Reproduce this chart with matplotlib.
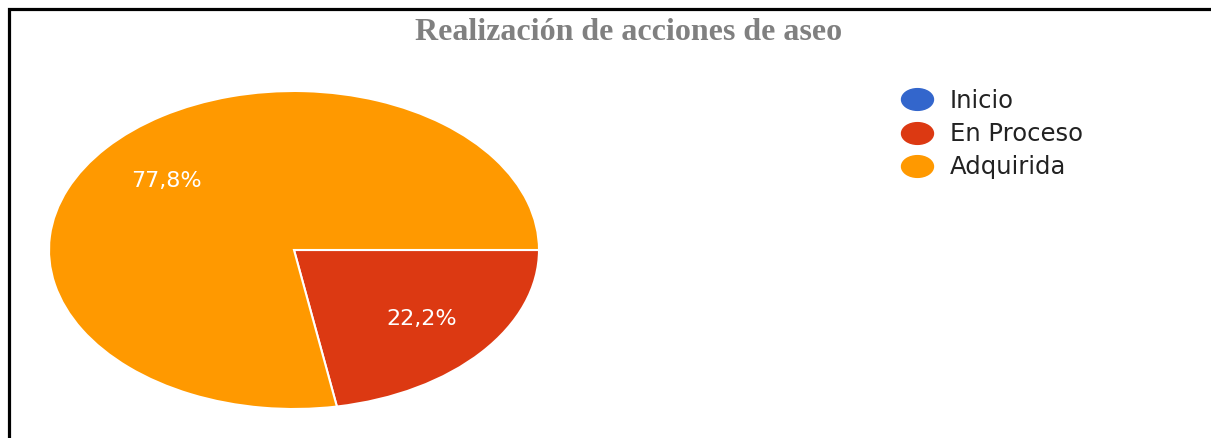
import matplotlib
matplotlib.use("Agg")
import matplotlib.pyplot as plt
from matplotlib.lines import Line2D
from matplotlib.path import Path
from matplotlib.transforms import Affine2D

# Data
categories = ["Inicio", "En Proceso", "Adquirida"]
values = [0.0, 22.2, 77.8]
colors = ["#3366cc", "#dc3912", "#ff9900"]
title = "Realización de acciones de aseo"

W, H = 1211, 438
fig = plt.figure(figsize=(W / 100, H / 100), dpi=100)
fig.patch.set_facecolor("white")

# Pie axes (elliptical pie: center (294,250), rx 245, ry 159 in pixels)
cx, cy, rx, ry = 294, 250, 245, 159
ax = fig.add_axes([(cx - rx) / W, (H - cy - ry) / H, 2 * rx / W, 2 * ry / H])


def fmt(p):
    if p < 0.05:
        return ""
    return f"{p:.1f}%".replace(".", ",")


wedges, texts, autotexts = ax.pie(
    values, colors=colors, startangle=0, counterclock=False,
    autopct=fmt, pctdistance=0.68,
    wedgeprops=dict(edgecolor="white", linewidth=1.5),
    textprops=dict(color="white", fontsize=16, family="DejaVu Sans"),
)
ax.set_aspect("auto")
ax.set_xlim(-1, 1)
ax.set_ylim(-1, 1)

# Legend with elliptical markers
ell = Path.unit_circle().transformed(Affine2D().scale(1.0, 0.68))
handles = [Line2D([], [], linestyle="none", marker=ell, markersize=23,
                  markerfacecolor=c, markeredgecolor=c) for c in colors]
fig.legend(handles, categories, loc="upper left",
           bbox_to_anchor=(900 / W, 1 - 89 / H), frameon=False,
           borderpad=0, borderaxespad=0, handlelength=1.4, handletextpad=0.65,
           labelspacing=0.38, prop=dict(family="DejaVu Sans", size=17.5),
           labelcolor="#222222")

# Title
fig.text(629 / W, 1 - 40 / H, title, ha="center", va="baseline",
         fontsize=23, fontweight="bold", family="Liberation Serif",
         color="#808080")

# Frame lines (top and left)
fig.add_artist(Line2D([9 / W, 9 / W, 1.0], [0.0, 1 - 8.5 / H, 1 - 8.5 / H],
                      transform=fig.transFigure, color="black", linewidth=2.3,
                      solid_joinstyle="miter"))

fig.savefig("out.png", dpi=100)
